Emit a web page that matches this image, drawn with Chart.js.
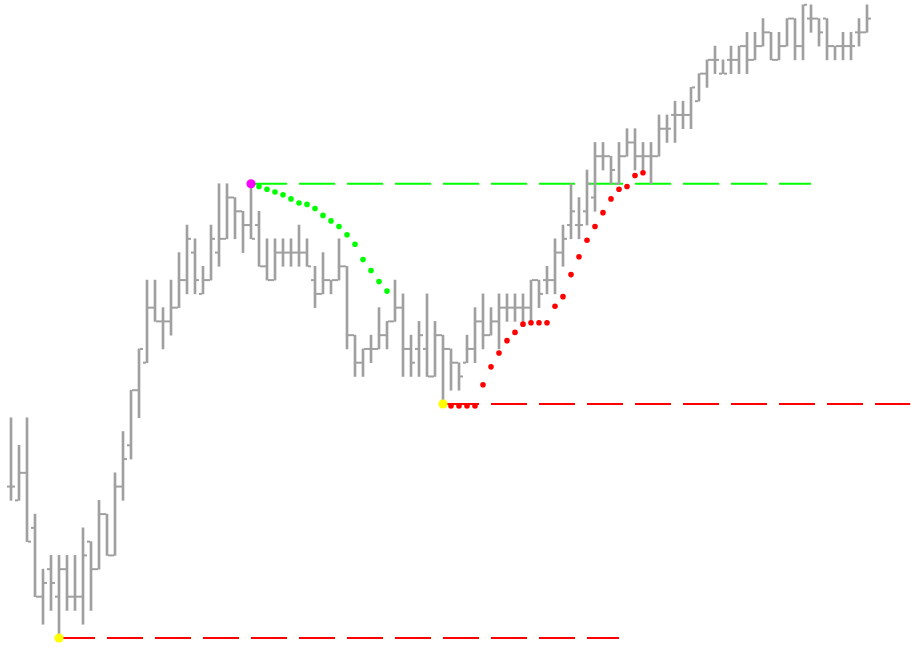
<!DOCTYPE html>
<html>
<head>
<meta charset="utf-8">
<script src="https://cdn.jsdelivr.net/npm/chart.js@4.4.1/dist/chart.umd.min.js"></script>
<style>
    html, body { margin: 0; padding: 0; background: #ffffff; }
    #chart { display: block; }
</style>
</head>
<body>
<canvas id="chart" width="923" height="649"></canvas>
<script>
// OHLC in price ticks, one entry per bar
const opens  = [11,10,12,8,3,5,3,5,3,3,7,5,9,6,11,14,18,20,24,23,23,24,26,28,25,26,28,29,32,31,30,30,27,26,28,28,28,28,26,25,26,26,27,22,20,21,21,22,23,24,21,21,21,19,22,21,20,20,21,23,22,23,24,24,24,24,26,26,26,28,30,30,31,32,35,35,33,35,36,35,35,35,37,38,38,38,39,41,42,41,42,42,43,42,43,44,42,43,45,43,45,45,45,43,43,43,44,44];
const highs  = [16,14,16,9,5,6,6,6,6,8,7,10,9,12,15,18,21,26,26,24,26,28,30,29,27,30,33,33,32,31,33,31,29,29,29,29,30,29,27,28,26,29,27,22,21,22,24,23,26,25,22,23,25,23,22,21,20,22,24,25,24,25,25,25,25,26,26,27,29,30,33,32,34,36,36,35,36,37,37,36,36,38,38,39,39,40,41,42,43,42,43,43,44,44,45,44,44,45,45,46,46,45,45,43,44,44,45,46];
const lows   = [10,10,7,3,1,2,0,2,2,1,2,5,6,6,10,13,16,20,23,21,22,24,25,25,25,26,27,29,29,28,29,27,26,26,27,27,27,27,24,25,25,26,21,19,19,20,21,21,23,19,19,19,19,19,17,18,18,20,20,21,22,21,23,23,23,23,24,25,25,27,29,29,30,31,34,33,33,35,34,34,33,35,36,36,37,37,39,40,41,41,41,41,41,42,43,42,42,43,42,42,44,43,42,42,42,42,43,44];
const closes = [11,12,7,3,4,4,5,3,3,6,5,9,6,11,13,18,21,24,23,23,24,26,29,26,26,29,29,32,31,30,29,27,26,28,28,28,28,27,25,26,26,27,22,20,21,21,22,23,24,21,20,22,19,22,21,20,19,21,23,22,23,24,24,24,24,26,25,26,28,29,31,30,33,35,35,34,35,36,35,35,35,37,37,38,38,40,41,42,42,41,42,43,42,43,44,42,43,45,43,46,45,44,43,43,43,43,44,45];

// trailing stop dots
const greenStart = 31;
const greenStops = [32.8,32.6,32.4,32.2,31.9,31.6,31.5,31.2,30.7,30.3,29.9,29.3,28.6,27.5,26.7,25.9,25.2];
const redStart = 55;
const redStops = [16.85,16.85,16.85,16.85,18.4,19.7,20.7,21.6,22.2,22.8,22.9,22.9,22.9,24.1,24.8,26.4,27.7,28.9,29.9,30.9,31.9,32.6,32.8,33.6,33.8];

// swing points: bar index and price
const swingLows  = [[6, 0], [54, 17]];
const swingHighs = [[30, 33]];

// horizontal levels: from bar, to bar, price
const supportLines    = [[6, 76, 0], [54, 112.4, 17]];
const resistanceLines = [[30, 100, 33]];

const BAR_GRAY = '#a0a0a0';
const TICK_OFFSET = 0.3125;

function barRanges() {
    return highs.map((h, i) => ({ x: i, y: [lows[i], h] }));
}

function tickPoints(values, offset) {
    return values.map((v, i) => ({ x: i + offset, y: v }));
}

function stopPoints(start, values) {
    return values.map((v, i) => ({ x: start + i, y: v }));
}

function levelDataset(line, color) {
    return {
        type: 'line',
        data: [{ x: line[0], y: line[2] }, { x: line[1], y: line[2] }],
        borderColor: color,
        borderWidth: 2,
        borderDash: [36, 12],
        pointRadius: 0,
        fill: false,
        order: 5
    };
}

function dotDataset(points, color, radius, order) {
    return {
        type: 'line',
        data: points,
        showLine: false,
        pointStyle: 'circle',
        pointRadius: radius,
        pointBorderWidth: 0,
        pointBackgroundColor: color,
        pointBorderColor: color,
        order: order
    };
}

function tickDataset(points) {
    return {
        type: 'line',
        data: points,
        showLine: false,
        pointStyle: 'line',
        pointRadius: 1.5,
        pointBorderWidth: 2,
        pointBorderColor: BAR_GRAY,
        order: 3
    };
}

const datasets = [
    dotDataset(swingLows.map(p => ({ x: p[0], y: p[1] })), '#ffff00', 4.6, 0),
    dotDataset(swingHighs.map(p => ({ x: p[0], y: p[1] })), '#ff00ff', 4.6, 0),
    dotDataset(stopPoints(greenStart, greenStops), '#00ff00', 2.8, 1),
    dotDataset(stopPoints(redStart, redStops), '#ff0000', 2.8, 1),
    tickDataset(tickPoints(opens, -TICK_OFFSET)),
    tickDataset(tickPoints(closes, TICK_OFFSET)),
    {
        type: 'bar',
        data: barRanges(),
        backgroundColor: BAR_GRAY,
        borderWidth: 0,
        barThickness: 2,
        order: 4
    }
];

supportLines.forEach(l => datasets.push(levelDataset(l, '#ff0000')));
resistanceLines.forEach(l => datasets.push(levelDataset(l, '#00ff00')));

const ctx = document.getElementById('chart').getContext('2d');
new Chart(ctx, {
    type: 'bar',
    data: { datasets: datasets },
    options: {
        responsive: false,
        animation: false,
        events: [],
        layout: { padding: 0, autoPadding: false },
        plugins: {
            legend: { display: false },
            tooltip: { enabled: false }
        },
        scales: {
            x: { type: 'linear', display: false, offset: false, min: -1.375, max: 114 },
            y: { type: 'linear', display: false, min: -0.8, max: 46.35 }
        }
    }
});
</script>
</body>
</html>
